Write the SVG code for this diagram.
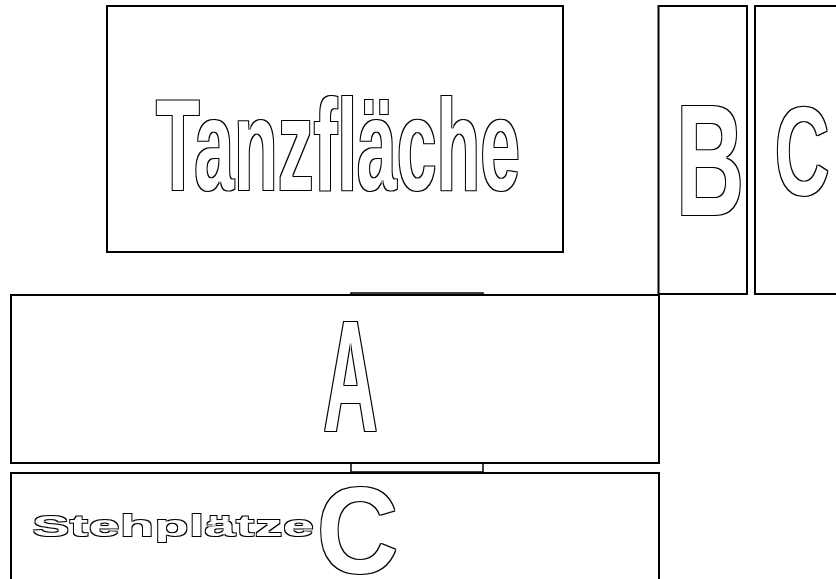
<svg xmlns="http://www.w3.org/2000/svg" width="836" height="579" viewBox="0 0 836 579">
<defs>
<filter id="outline" x="-3%" y="-3%" width="106%" height="106%" color-interpolation-filters="sRGB">
<feMorphology in="SourceAlpha" operator="dilate" radius="1" result="d"/>
<feMorphology in="d" operator="erode" radius="1.4" result="e"/>
<feComposite in="d" in2="e" operator="out" result="ring"/>
<feFlood flood-color="#fff" result="w"/>
<feComposite in="w" in2="d" operator="in" result="wf"/>
<feFlood flood-color="#000" result="k"/>
<feComposite in="k" in2="ring" operator="in" result="kr"/>
<feMerge><feMergeNode in="wf"/><feMergeNode in="kr"/></feMerge>
</filter>
<filter id="outline60" x="-3%" y="-3%" width="106%" height="106%" color-interpolation-filters="sRGB">
<feMorphology in="SourceAlpha" operator="dilate" radius="1.667 1" result="d"/>
<feMorphology in="d" operator="erode" radius="2.333 1.4" result="e"/>
<feComposite in="d" in2="e" operator="out" result="ring"/>
<feFlood flood-color="#fff" result="w"/>
<feComposite in="w" in2="d" operator="in" result="wf"/>
<feFlood flood-color="#000" result="k"/>
<feComposite in="k" in2="ring" operator="in" result="kr"/>
<feMerge><feMergeNode in="wf"/><feMergeNode in="kr"/></feMerge>
</filter>
<filter id="outline48" x="-3%" y="-3%" width="106%" height="106%" color-interpolation-filters="sRGB">
<feMorphology in="SourceAlpha" operator="dilate" radius="2.083 1" result="d"/>
<feMorphology in="d" operator="erode" radius="2.917 1.4" result="e"/>
<feComposite in="d" in2="e" operator="out" result="ring"/>
<feFlood flood-color="#fff" result="w"/>
<feComposite in="w" in2="d" operator="in" result="wf"/>
<feFlood flood-color="#000" result="k"/>
<feComposite in="k" in2="ring" operator="in" result="kr"/>
<feMerge><feMergeNode in="wf"/><feMergeNode in="kr"/></feMerge>
</filter>
<filter id="outline93" x="-3%" y="-3%" width="106%" height="106%" color-interpolation-filters="sRGB">
<feMorphology in="SourceAlpha" operator="dilate" radius="1.075 1" result="d"/>
<feMorphology in="d" operator="erode" radius="1.505 1.4" result="e"/>
<feComposite in="d" in2="e" operator="out" result="ring"/>
<feFlood flood-color="#fff" result="w"/>
<feComposite in="w" in2="d" operator="in" result="wf"/>
<feFlood flood-color="#000" result="k"/>
<feComposite in="k" in2="ring" operator="in" result="kr"/>
<feMerge><feMergeNode in="wf"/><feMergeNode in="kr"/></feMerge>
</filter>
</defs>
<style>
.box{fill:#fff;stroke:#000;stroke-width:2}
.lbl{font-family:"Liberation Sans",Arial,sans-serif;font-weight:bold;fill:#000}
.letter{text-anchor:middle}
</style>
<rect width="836" height="579" fill="#fff"/>
<g id="connectors">
<rect x="351" y="293" width="132" height="179" fill="none" stroke="#000" stroke-width="1.5"/>
</g>
<g id="tanzflaeche">
<rect class="box" x="107" y="6" width="456" height="246"/>
<text class="lbl" filter="url(#outline)" x="156" y="189.6" font-size="129" textLength="364" lengthAdjust="spacingAndGlyphs">Tanzfläche</text>
</g>
<g id="block-b">
<rect class="box" x="658.5" y="6" width="88.5" height="288"/>
<text class="lbl letter" filter="url(#outline60)" font-size="157" transform="translate(710,215) scale(0.6,1)">B</text>
</g>
<g id="block-c-top">
<rect class="box" x="755" y="6" width="85" height="288"/>
<text class="lbl letter" filter="url(#outline60)" font-size="126" transform="translate(802,195) scale(0.6,1)">C</text>
</g>
<g id="block-a">
<rect class="box" x="11" y="295" width="648" height="168"/>
<text class="lbl letter" filter="url(#outline48)" font-size="157" transform="translate(350.5,431) scale(0.48,1)">A</text>
</g>
<g id="stehplaetze">
<rect class="box" x="11" y="473" width="648" height="110"/>
<text class="lbl" filter="url(#outline)" x="32" y="536" font-size="29.5" textLength="282" lengthAdjust="spacingAndGlyphs">Stehplätze</text>
<text class="lbl letter" filter="url(#outline93)" font-size="122" transform="translate(357.5,572.5) scale(0.93,1)">C</text>
</g>
</svg>
